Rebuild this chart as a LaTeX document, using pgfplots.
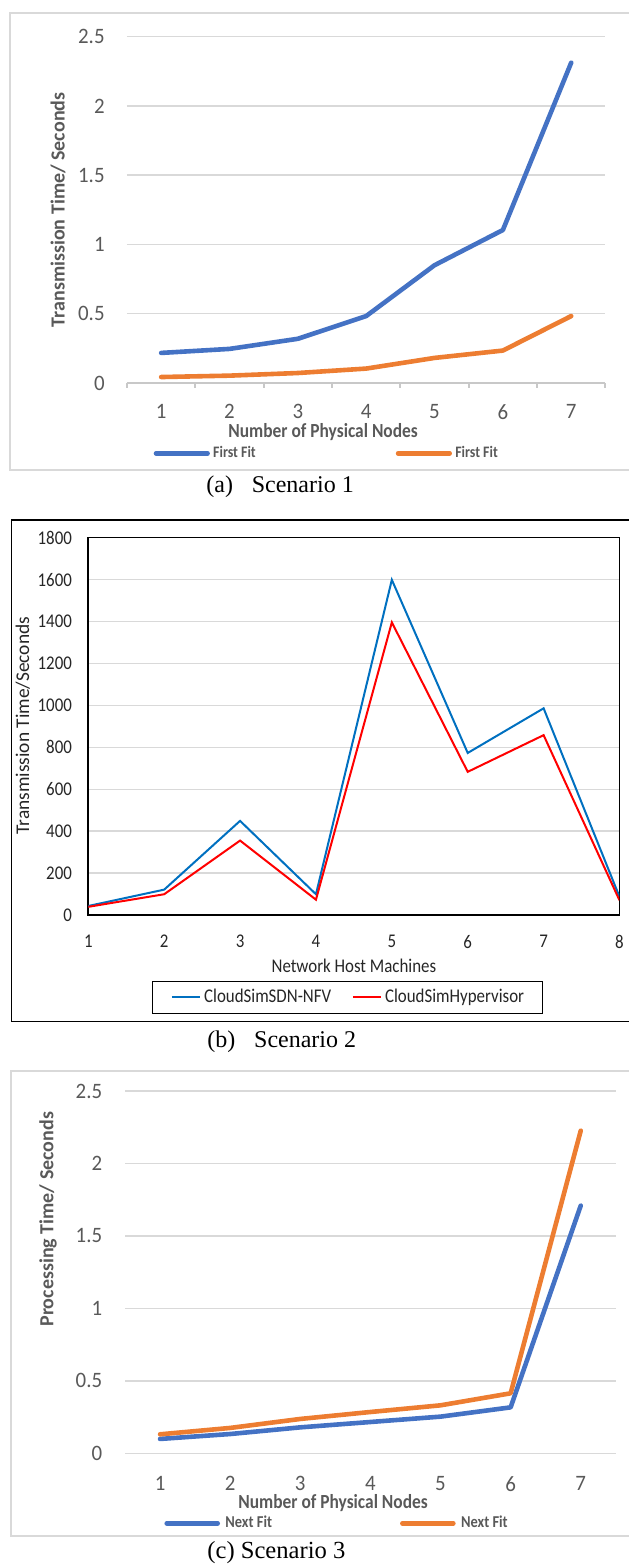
\documentclass[border=0pt]{standalone}
\usepackage{fontspec}
\usepackage{pgfplots}
\pgfplotsset{compat=1.18}
\setmainfont{Carlito}
\newfontfamily\calfont[FakeStretch=0.87]{Carlito}
\newfontfamily\calfontw[FakeStretch=0.95]{Carlito}
\newfontfamily\calfontn{Carlito}
\newfontfamily\tnr{Liberation Serif}
\definecolor{txtgray}{HTML}{595959}
\definecolor{gridgray}{HTML}{D9D9D9}
\definecolor{axgray}{HTML}{C8C8C8}
\definecolor{framegray}{HTML}{D9D9D9}
\definecolor{blueA}{HTML}{4472C4}
\definecolor{orangeA}{HTML}{ED7D31}
\definecolor{blueB}{HTML}{0070C0}
\definecolor{redB}{HTML}{FF0000}
\begin{document}
\begin{tikzpicture}
\path[use as bounding box] (0,0) rectangle (314pt,782.5pt);
% panel frames
\draw[framegray, line width=0.9pt] (5pt,547.5pt) rectangle (320pt,775.8pt);
\draw[black, line width=0.7pt] (5.85pt,271.65pt) rectangle (320pt,522.5pt);
\draw[framegray, line width=0.9pt] (5.35pt,14.65pt) rectangle (320pt,247.15pt);
% captions
\node[anchor=west, inner sep=0pt, font=\tnr\fontsize{12}{14}\selectfont] at (103pt,539.2pt) {(a)\hspace*{9.4pt}Scenario 1};
\node[anchor=west, inner sep=0pt, font=\tnr\fontsize{12}{14}\selectfont] at (103.5pt,261.5pt) {(b)\hspace*{9.4pt}Scenario 2};
\node[anchor=west, inner sep=0pt, font=\tnr\fontsize{12.3}{14}\selectfont] at (103.5pt,6pt) {(c) Scenario 3};

% ---------- panel (a)
\begin{axis}[
  at={(63.5pt,591pt)}, anchor=south west,
  scale only axis, width=239.2pt, height=173.2pt,
  xmin=0.5, xmax=7.5, ymin=0, ymax=2.5,
  xtick={1,2,3,4,5,6,7}, ytick={0,0.5,1,1.5,2,2.5},
  axis x line*=bottom, axis y line*=left,
  x axis line style={draw=axgray, line width=0.9pt, -},
  y axis line style={draw=none},
  ymajorgrids, grid style={draw=gridgray, line width=0.7pt},
  major tick style={draw=none},
  extra x ticks={0.5,1.5,2.5,3.5,4.5,5.5,6.5,7.5},
  extra x tick labels={},
  extra x tick style={major tick style={draw=axgray, line width=0.9pt}, major tick length=2.5pt, tick align=outside},
  /pgf/number format/assume math mode=true,
  tick label style={font=\calfontw\fontsize{11}{13}\selectfont, text=txtgray},
  yticklabel style={anchor=east, inner sep=0pt, xshift=-11pt},
  xticklabel style={anchor=north, inner sep=0pt, yshift=-10.4pt},
  label style={text=txtgray},
  xlabel={Number of Physical Nodes},
  ylabel={Transmission Time/ Seconds},
  xlabel style={font=\calfont\bfseries\fontsize{10}{12}\selectfont, at={(axis description cs:0.41,-0.141)}, anchor=center},
  ylabel style={font=\calfontn\bfseries\fontsize{10}{12}\selectfont, at={(axis description cs:-0.144,0.5)}, anchor=center},
  legend columns=2,
  legend image code/.code={\draw[#1] (0pt,0pt) -- (25.8pt,0pt);},
  legend style={draw=none, fill=none, at={(axis description cs:0.055,-0.203)}, anchor=west, inner sep=0pt,
    nodes={inner sep=0pt, text=txtgray}, font=\calfont\bfseries\fontsize{8}{9}\selectfont,
    /tikz/every odd column/.append style={column sep=1.65pt},
    /tikz/every even column/.append style={column sep=70pt}},
]
\addplot[blueA, line width=2.3pt, line cap=round, line join=round] coordinates {(1,0.217)(2,0.246)(3,0.319)(4,0.483)(5,0.85)(6,1.104)(7,2.312)};
\addlegendentry{First Fit}
\addplot[orangeA, line width=2.3pt, line cap=round, line join=round] coordinates {(1,0.043)(2,0.053)(3,0.072)(4,0.104)(5,0.181)(6,0.234)(7,0.483)};
\addlegendentry{First Fit}
\end{axis}

% ---------- panel (b)
\begin{axis}[
  at={(44.15pt,325pt)}, anchor=south west,
  scale only axis, width=265.6pt, height=188.65pt,
  xmin=1, xmax=8, ymin=0, ymax=1800,
  xtick={1,2,3,4,5,6,7,8}, ytick={0,200,400,600,800,1000,1200,1400,1600,1800},
  scaled y ticks=false,
  /pgf/number format/1000 sep={},
  ymajorgrids, grid style={draw=gridgray, line width=0.7pt},
  axis line style={draw=black, line width=0.8pt},
  major tick style={draw=none},
  /pgf/number format/assume math mode=true,
  tick label style={font=\calfont\fontsize{9.7}{11}\selectfont, text=black!85},
  yticklabel style={anchor=east, inner sep=0pt, xshift=-8pt},
  xticklabel style={anchor=north, inner sep=0pt, yshift=-10pt},
  label style={text=black!85},
  xlabel={Network Host Machines},
  ylabel={Transmission Time/Seconds},
  xlabel style={font=\calfont\fontsize{9.7}{11}\selectfont, at={(axis description cs:0.5,-0.135)}, anchor=center},
  ylabel style={font=\calfontn\fontsize{9.7}{11}\selectfont, at={(axis description cs:-0.1235,0.502)}, anchor=center},
  legend columns=2, legend cell align=left,
  legend image code/.code={\draw[#1] (0pt,0pt) -- (14.2pt,0pt);},
  legend style={draw=black, line width=0.7pt, fill=white, at={(axis description cs:0.488,-0.218)}, anchor=center,
    inner xsep=9.2pt, inner ysep=3.9pt,
    nodes={inner sep=0pt, text=black!85}, font=\calfont\fontsize{9.7}{11}\selectfont,
    /tikz/every odd column/.append style={column sep=1.4pt},
    /tikz/every even column/.append style={column sep=10.35pt}},
]
\addplot[blueB, line width=1pt] coordinates {(1,43)(2,121)(3,449)(4,99)(5,1599)(6,773)(7,986)(8,87)};
\addlegendentry{CloudSimSDN-NFV}
\addplot[redB, line width=1pt] coordinates {(1,39)(2,99)(3,355)(4,73)(5,1396)(6,683)(7,858)(8,70)};
\addlegendentry{CloudSimHypervisor}
\end{axis}

% ---------- panel (c)
\begin{axis}[
  at={(62.5pt,55.85pt)}, anchor=south west,
  scale only axis, width=245.4pt, height=181.15pt,
  xmin=0.5, xmax=7.5, ymin=0, ymax=2.5,
  xtick={1,2,3,4,5,6,7}, ytick={0,0.5,1,1.5,2,2.5},
  axis line style={draw=none},
  ymajorgrids, grid style={draw=gridgray, line width=0.7pt},
  major tick style={draw=none},
  /pgf/number format/assume math mode=true,
  tick label style={font=\calfontw\fontsize{11}{13}\selectfont, text=txtgray},
  yticklabel style={anchor=east, inner sep=0pt, xshift=-11.2pt},
  xticklabel style={anchor=north, inner sep=0pt, yshift=-11.3pt},
  label style={text=txtgray},
  xlabel={Number of Physical Nodes},
  ylabel={Processing Time/ Seconds},
  xlabel style={font=\calfont\bfseries\fontsize{10}{12}\selectfont, at={(axis description cs:0.424,-0.137)}, anchor=center},
  ylabel style={font=\calfontn\bfseries\fontsize{10}{12}\selectfont, at={(axis description cs:-0.157,0.646)}, anchor=center},
  legend columns=2,
  legend image code/.code={\draw[#1] (0pt,0pt) -- (25.5pt,0pt);},
  legend style={draw=none, fill=none, at={(axis description cs:0.0795,-0.193)}, anchor=west, inner sep=0pt,
    nodes={inner sep=0pt, text=txtgray}, font=\calfont\bfseries\fontsize{8.3}{9}\selectfont,
    /tikz/every odd column/.append style={column sep=2.7pt},
    /tikz/every even column/.append style={column sep=64pt}},
]
\addplot[blueA, line width=2.3pt, line cap=round, line join=round] coordinates {(1,0.099)(2,0.133)(3,0.179)(4,0.216)(5,0.253)(6,0.317)(7,1.709)};
\addlegendentry{Next Fit}
\addplot[orangeA, line width=2.3pt, line cap=round, line join=round] coordinates {(1,0.131)(2,0.175)(3,0.237)(4,0.285)(5,0.331)(6,0.414)(7,2.226)};
\addlegendentry{Next Fit}
\end{axis}
\end{tikzpicture}
\end{document}
